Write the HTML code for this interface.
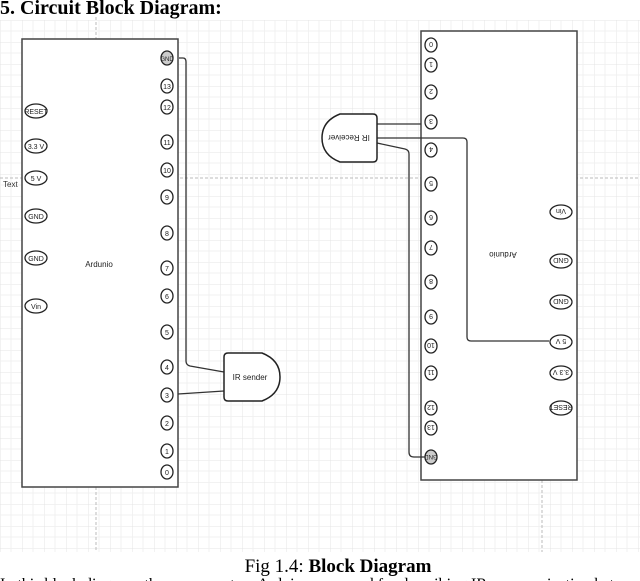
<!DOCTYPE html>
<html><head><meta charset="utf-8"><style>
html,body{margin:0;padding:0;background:#fff;width:640px;height:581px;overflow:hidden}
svg{display:block}
</style></head><body>
<svg width="640" height="581" viewBox="0 0 640 581" xmlns="http://www.w3.org/2000/svg" font-family="Liberation Sans, sans-serif">
<defs>
<pattern id="g" x="0" y="20" width="22" height="22" patternUnits="userSpaceOnUse">
<path d="M0 0H22M0 0V22" stroke="#e4e4e4" stroke-width="1" fill="none"/>
<path d="M0 11H22M11 0V22" stroke="#f1f1f1" stroke-width="1" fill="none"/>
</pattern>
</defs>
<rect x="0" y="20" width="640" height="532" fill="url(#g)"/>
<line x1="0" y1="178" x2="640" y2="178" stroke="#bbb" stroke-dasharray="3,2"/>
<line x1="96" y1="17" x2="96" y2="552" stroke="#bbb" stroke-dasharray="3,2"/>
<line x1="542" y1="480" x2="542" y2="552" stroke="#bbb" stroke-dasharray="3,2"/>
<text x="0" y="14" font-family="Liberation Serif, serif" font-weight="bold" font-size="20">5. Circuit Block Diagram:</text>

<!-- left board -->
<rect x="22" y="39" width="156" height="448" fill="#fff" stroke="#444" stroke-width="1.5"/>
<g stroke="#222" stroke-width="1.3" fill="#fff" font-size="7" text-anchor="middle">
<g id="lp">
<ellipse cx="167" cy="58" rx="6" ry="7" fill="#ccc"/>
<ellipse cx="167" cy="86" rx="6" ry="7"/><ellipse cx="167" cy="107" rx="6" ry="7"/>
<ellipse cx="167" cy="142" rx="6" ry="7"/><ellipse cx="167" cy="170" rx="6" ry="7"/>
<ellipse cx="167" cy="197" rx="6" ry="7"/><ellipse cx="167" cy="233" rx="6" ry="7"/>
<ellipse cx="167" cy="268" rx="6" ry="7"/><ellipse cx="167" cy="296" rx="6" ry="7"/>
<ellipse cx="167" cy="332" rx="6" ry="7"/><ellipse cx="167" cy="367" rx="6" ry="7"/>
<ellipse cx="167" cy="395" rx="6" ry="7"/><ellipse cx="167" cy="423" rx="6" ry="7"/>
<ellipse cx="167" cy="451" rx="6" ry="7"/><ellipse cx="167" cy="472" rx="6" ry="7"/>
</g>
<ellipse cx="36" cy="111" rx="11" ry="7"/><ellipse cx="36" cy="146" rx="11" ry="7"/>
<ellipse cx="36" cy="178" rx="11" ry="7"/><ellipse cx="36" cy="216" rx="11" ry="7"/>
<ellipse cx="36" cy="258" rx="11" ry="7"/><ellipse cx="36" cy="306" rx="11" ry="7"/>
</g>
<g font-size="7" text-anchor="middle" fill="#222">
<text x="167" y="61" font-size="6">GND</text><text x="167" y="89">13</text><text x="167" y="110">12</text>
<text x="167" y="145">11</text><text x="167" y="173">10</text><text x="167" y="200">9</text>
<text x="167" y="236">8</text><text x="167" y="271">7</text><text x="167" y="299">6</text>
<text x="167" y="335">5</text><text x="167" y="370">4</text><text x="167" y="398">3</text>
<text x="167" y="426">2</text><text x="167" y="454">1</text><text x="167" y="475">0</text>
<text x="36" y="114">RESET</text><text x="36" y="149">3.3 V</text><text x="36" y="181">5 V</text>
<text x="36" y="219">GND</text><text x="36" y="261">GND</text><text x="36" y="309">Vin</text>
<text x="99" y="267" font-size="8">Ardunio</text>
</g>
<text x="3" y="187" font-size="8" fill="#333">Text</text>

<!-- left wires -->
<path d="M179 58H183Q186 58 186 62V361Q186 365 190 366L224 372" fill="none" stroke="#333" stroke-width="1.3"/>
<path d="M178 394L224 391" fill="none" stroke="#333" stroke-width="1.3"/>
<path d="M224 357Q224 353 228 353H262Q280 360 280 377Q280 394 262 401H228Q224 401 224 397Z" fill="#fff" stroke="#222" stroke-width="1.5"/>
<text x="250" y="380" font-size="8" text-anchor="middle" fill="#222">IR sender</text>

<!-- right board -->
<rect x="421" y="31" width="156" height="449" fill="#fff" stroke="#444" stroke-width="1.5"/>
<g stroke="#222" stroke-width="1.3" fill="#fff">
<ellipse cx="431" cy="45" rx="6" ry="7"/><ellipse cx="431" cy="65" rx="6" ry="7"/>
<ellipse cx="431" cy="92" rx="6" ry="7"/><ellipse cx="431" cy="122" rx="6" ry="7"/>
<ellipse cx="431" cy="150" rx="6" ry="7"/><ellipse cx="431" cy="184" rx="6" ry="7"/>
<ellipse cx="431" cy="218" rx="6" ry="7"/><ellipse cx="431" cy="248" rx="6" ry="7"/>
<ellipse cx="431" cy="282" rx="6" ry="7"/><ellipse cx="431" cy="317" rx="6" ry="7"/>
<ellipse cx="431" cy="346" rx="6" ry="7"/><ellipse cx="431" cy="373" rx="6" ry="7"/>
<ellipse cx="431" cy="408" rx="6" ry="7"/><ellipse cx="431" cy="428" rx="6" ry="7"/>
<ellipse cx="431" cy="457" rx="6" ry="7" fill="#ccc"/>
<ellipse cx="561" cy="212" rx="11" ry="7"/><ellipse cx="561" cy="261" rx="11" ry="7"/>
<ellipse cx="561" cy="302" rx="11" ry="7"/><ellipse cx="561" cy="342" rx="11" ry="7"/>
<ellipse cx="561" cy="373" rx="11" ry="7"/><ellipse cx="561" cy="408" rx="11" ry="7"/>
</g>
<g font-size="7" text-anchor="middle" fill="#222">
<text transform="translate(431,42) rotate(180)">0</text><text transform="translate(431,62) rotate(180)">1</text>
<text transform="translate(431,89) rotate(180)">2</text><text transform="translate(431,119) rotate(180)">3</text>
<text transform="translate(431,147) rotate(180)">4</text><text transform="translate(431,181) rotate(180)">5</text>
<text transform="translate(431,215) rotate(180)">6</text><text transform="translate(431,245) rotate(180)">7</text>
<text transform="translate(431,279) rotate(180)">8</text><text transform="translate(431,314) rotate(180)">9</text>
<text transform="translate(431,343) rotate(180)">10</text><text transform="translate(431,370) rotate(180)">11</text>
<text transform="translate(431,405) rotate(180)">12</text><text transform="translate(431,425) rotate(180)">13</text>
<text transform="translate(431,455) rotate(180)" font-size="6">GND</text>
<text transform="translate(561,209) rotate(180)">Vin</text><text transform="translate(561,258) rotate(180)">GND</text>
<text transform="translate(561,299) rotate(180)">GND</text><text transform="translate(561,339) rotate(180)">5 V</text>
<text transform="translate(561,370) rotate(180)">3.3 V</text><text transform="translate(561,405) rotate(180)">RESET</text>
<text transform="translate(503,252) rotate(180)" font-size="8">Ardunio</text>
</g>

<!-- right wires -->
<g fill="none" stroke="#333" stroke-width="1.3">
<path d="M377 124H421"/>
<path d="M377 138H463Q467 138 467 142V337Q467 341 471 341H549"/>
<path d="M377 143L405 149Q409 150 409 154V452Q409 457 414 457H425"/>
</g>
<path d="M377 118Q377 114 373 114H340Q322 121 322 138Q322 155 340 162H373Q377 162 377 158Z" fill="#fff" stroke="#222" stroke-width="1.5"/>
<text transform="translate(349,135) rotate(180)" font-size="8" text-anchor="middle" fill="#222">IR Receiver</text>

<text x="338" y="572" font-family="Liberation Serif, serif" font-size="19" text-anchor="middle">Fig 1.4: <tspan font-weight="bold">Block Diagram</tspan></text>
<text x="0" y="589" font-family="Liberation Serif, serif" font-size="16">In this block diagram, the user uses two Arduinos are used for describing IR communication between</text>
</svg>
</body></html>
